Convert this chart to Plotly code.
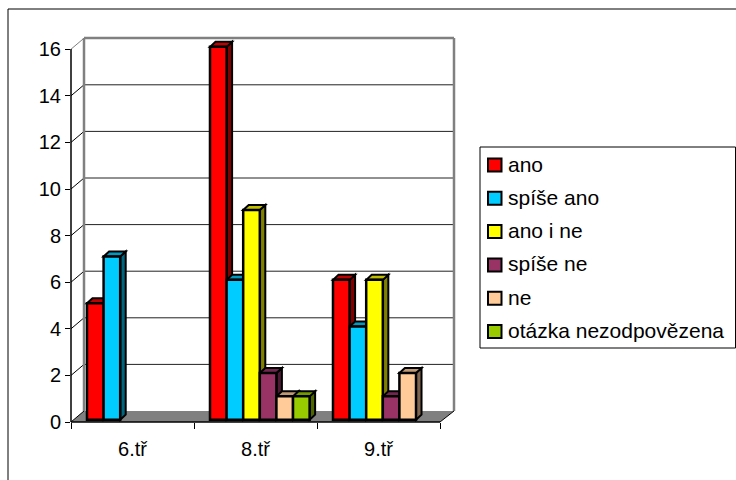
import plotly.graph_objects as go

classes = ["6.tř", "8.tř", "9.tř"]
answers = ["ano", "spíše ano", "ano i ne", "spíše ne", "ne", "otázka nezodpovězena"]
ano = [5, 16, 6]
spise_ano = [7, 6, 4]
ano_i_ne = [None, 9, 6]
spise_ne = [None, 2, 1]
ne = [None, 1, 2]
nezodpovezena = [None, 1, None]
y_ticks = [0, 2, 4, 6, 8, 10, 12, 14, 16]

series = [ano, spise_ano, ano_i_ne, spise_ne, ne, nezodpovezena]
front = ["#FF0000", "#00CCFF", "#FFFF00", "#993366", "#FFCC99", "#99CC00"]
top = ["#BF0000", "#0099BF", "#BFBF00", "#732650", "#BF9973", "#739900"]
side = ["#800000", "#006680", "#808000", "#4D1933", "#806650", "#4D6600"]

# plot area in page pixels, the axes are linear so everything follows from these
LEFT, RIGHT, TOP, BOTTOM = 71, 454, 38, 422
UNIT_X, UNIT_Y = 123, 23.3
x_max = (RIGHT - LEFT) / UNIT_X
y_max = (BOTTOM - TOP) / UNIT_Y
FONT = dict(family="Liberation Sans, Arial, sans-serif", size=20, color="black")
LEGEND_FONT = dict(family="Liberation Sans, Arial, sans-serif", size=21, color="black")


def px(x):
    return (x - LEFT) / (RIGHT - LEFT)


def py(y):
    return (BOTTOM - y) / (BOTTOM - TOP)


def line(x0, y0, x1, y1, color="black", width=1):
    return dict(type="line", xref="paper", yref="paper", layer="below", x0=px(x0), y0=py(y0),
                x1=px(x1), y1=py(y1), line=dict(color=color, width=width))


def poly(points, fill):
    path = "M" + " L".join(f"{x},{y}" for x, y in points) + " Z"
    return dict(type="path", xref="x", yref="y", layer="below", path=path,
                fillcolor=fill, line=dict(color="black", width=2))


shapes = []

# floor and walls
shapes.append(dict(type="path", xref="paper", yref="paper", layer="below", fillcolor="#808080",
                   line=dict(width=0),
                   path=f"M{px(71)},{py(422)} L{px(84)},{py(411)} L{px(454)},{py(411)} L{px(440)},{py(422)} Z"))
for v in y_ticks:
    y = BOTTOM - v * UNIT_Y
    if v > 0:
        shapes.append(line(84, y - 11, 454, y - 11, "#222222"))
    shapes.append(line(71, y, 84, y - 11, "#808080" if v == 16 else "black"))
shapes.append(line(84, 38, 84, 411, "#808080", 2.5))
shapes.append(line(84, 38, 454, 38, "#808080", 2.5))
shapes.append(line(454, 38, 454, 411, "#808080", 2.5))
shapes.append(line(440, 422, 454, 411, "black"))
shapes.append(line(71, 49, 71, 422, "black", 1.5))
shapes.append(line(71, 422, 440, 422, "black", 1.5))

# outer frame, its right and bottom edges fall off the page
shapes.append(line(8, 9, 740, 9))
shapes.append(line(8, 9, 8, 484))

BASE = 0.1
BAR_W = 0.135
START = 0.13
DEPTH_X = 5.5 / UNIT_X
DEPTH_Y = 5 / UNIT_Y

fig = go.Figure()
for i, name in enumerate(answers):
    offset = START + i * BAR_W
    fig.add_trace(go.Bar(x=[0, 1, 2], y=series[i], name=name, base=BASE,
                         offset=offset, width=BAR_W, showlegend=False,
                         marker=dict(color=front[i], line=dict(color="black", width=2.5))))
    for c, v in enumerate(series[i]):
        if v is None:
            continue
        x0, x1 = c + offset, c + offset + BAR_W
        y0, y1 = BASE, BASE + v
        shapes.append(poly([(x1, y0), (x1 + DEPTH_X, y0 + DEPTH_Y),
                            (x1 + DEPTH_X, y1 + DEPTH_Y), (x1, y1)], side[i]))
        shapes.append(poly([(x0, y1), (x0 + DEPTH_X, y1 + DEPTH_Y),
                            (x1 + DEPTH_X, y1 + DEPTH_Y), (x1, y1)], top[i]))

# legend box, drawn by hand because the swatch sits closer to the text than plotly allows
shapes.append(dict(type="rect", xref="paper", yref="paper", layer="below", x0=px(480), y0=py(147),
                   x1=px(735.5), y1=py(348), fillcolor="white",
                   line=dict(color="black", width=1)))
annotations = []
for i, name in enumerate(answers):
    cy = 165 + i * 33.3
    shapes.append(dict(type="rect", xref="paper", yref="paper", layer="below",
                       x0=px(488), x1=px(501.5), y0=py(cy - 6.5), y1=py(cy + 6.5),
                       fillcolor=front[i], line=dict(color="black", width=2)))
    annotations.append(dict(text=name, xref="paper", yref="paper", x=px(506.5), y=py(cy - 1),
                            xanchor="left", yanchor="middle", showarrow=False,
                            font=LEGEND_FONT, borderpad=0))

fig.update_layout(
    width=736,
    height=480,
    autosize=False,
    margin=dict(l=LEFT, r=736 - RIGHT, t=TOP, b=480 - BOTTOM, pad=0),
    paper_bgcolor="white",
    plot_bgcolor="rgba(0,0,0,0)",
    barmode="overlay",
    font=FONT,
    shapes=shapes,
    annotations=annotations,
)
fig.update_xaxes(range=[0, x_max], tickmode="array", tickvals=[0.5, 1.5, 2.5], ticktext=classes,
                 ticks="outside", ticklen=9, tickcolor="rgba(0,0,0,0)", showgrid=False,
                 showline=False, zeroline=False,
                 minor=dict(tickmode="array", tickvals=[0, 1, 2, 3], ticks="outside",
                            ticklen=6, tickcolor="black", showgrid=False))
fig.update_yaxes(range=[0, y_max], tickmode="array", tickvals=y_ticks, ticks="outside",
                 ticklen=5, tickcolor="black", showgrid=False, showline=False, zeroline=False)

# the default page margin would push the chart 8px off
fig.write_html("out.html", config=dict(displayModeBar=False),
               post_script="document.body.style.margin='0';")
